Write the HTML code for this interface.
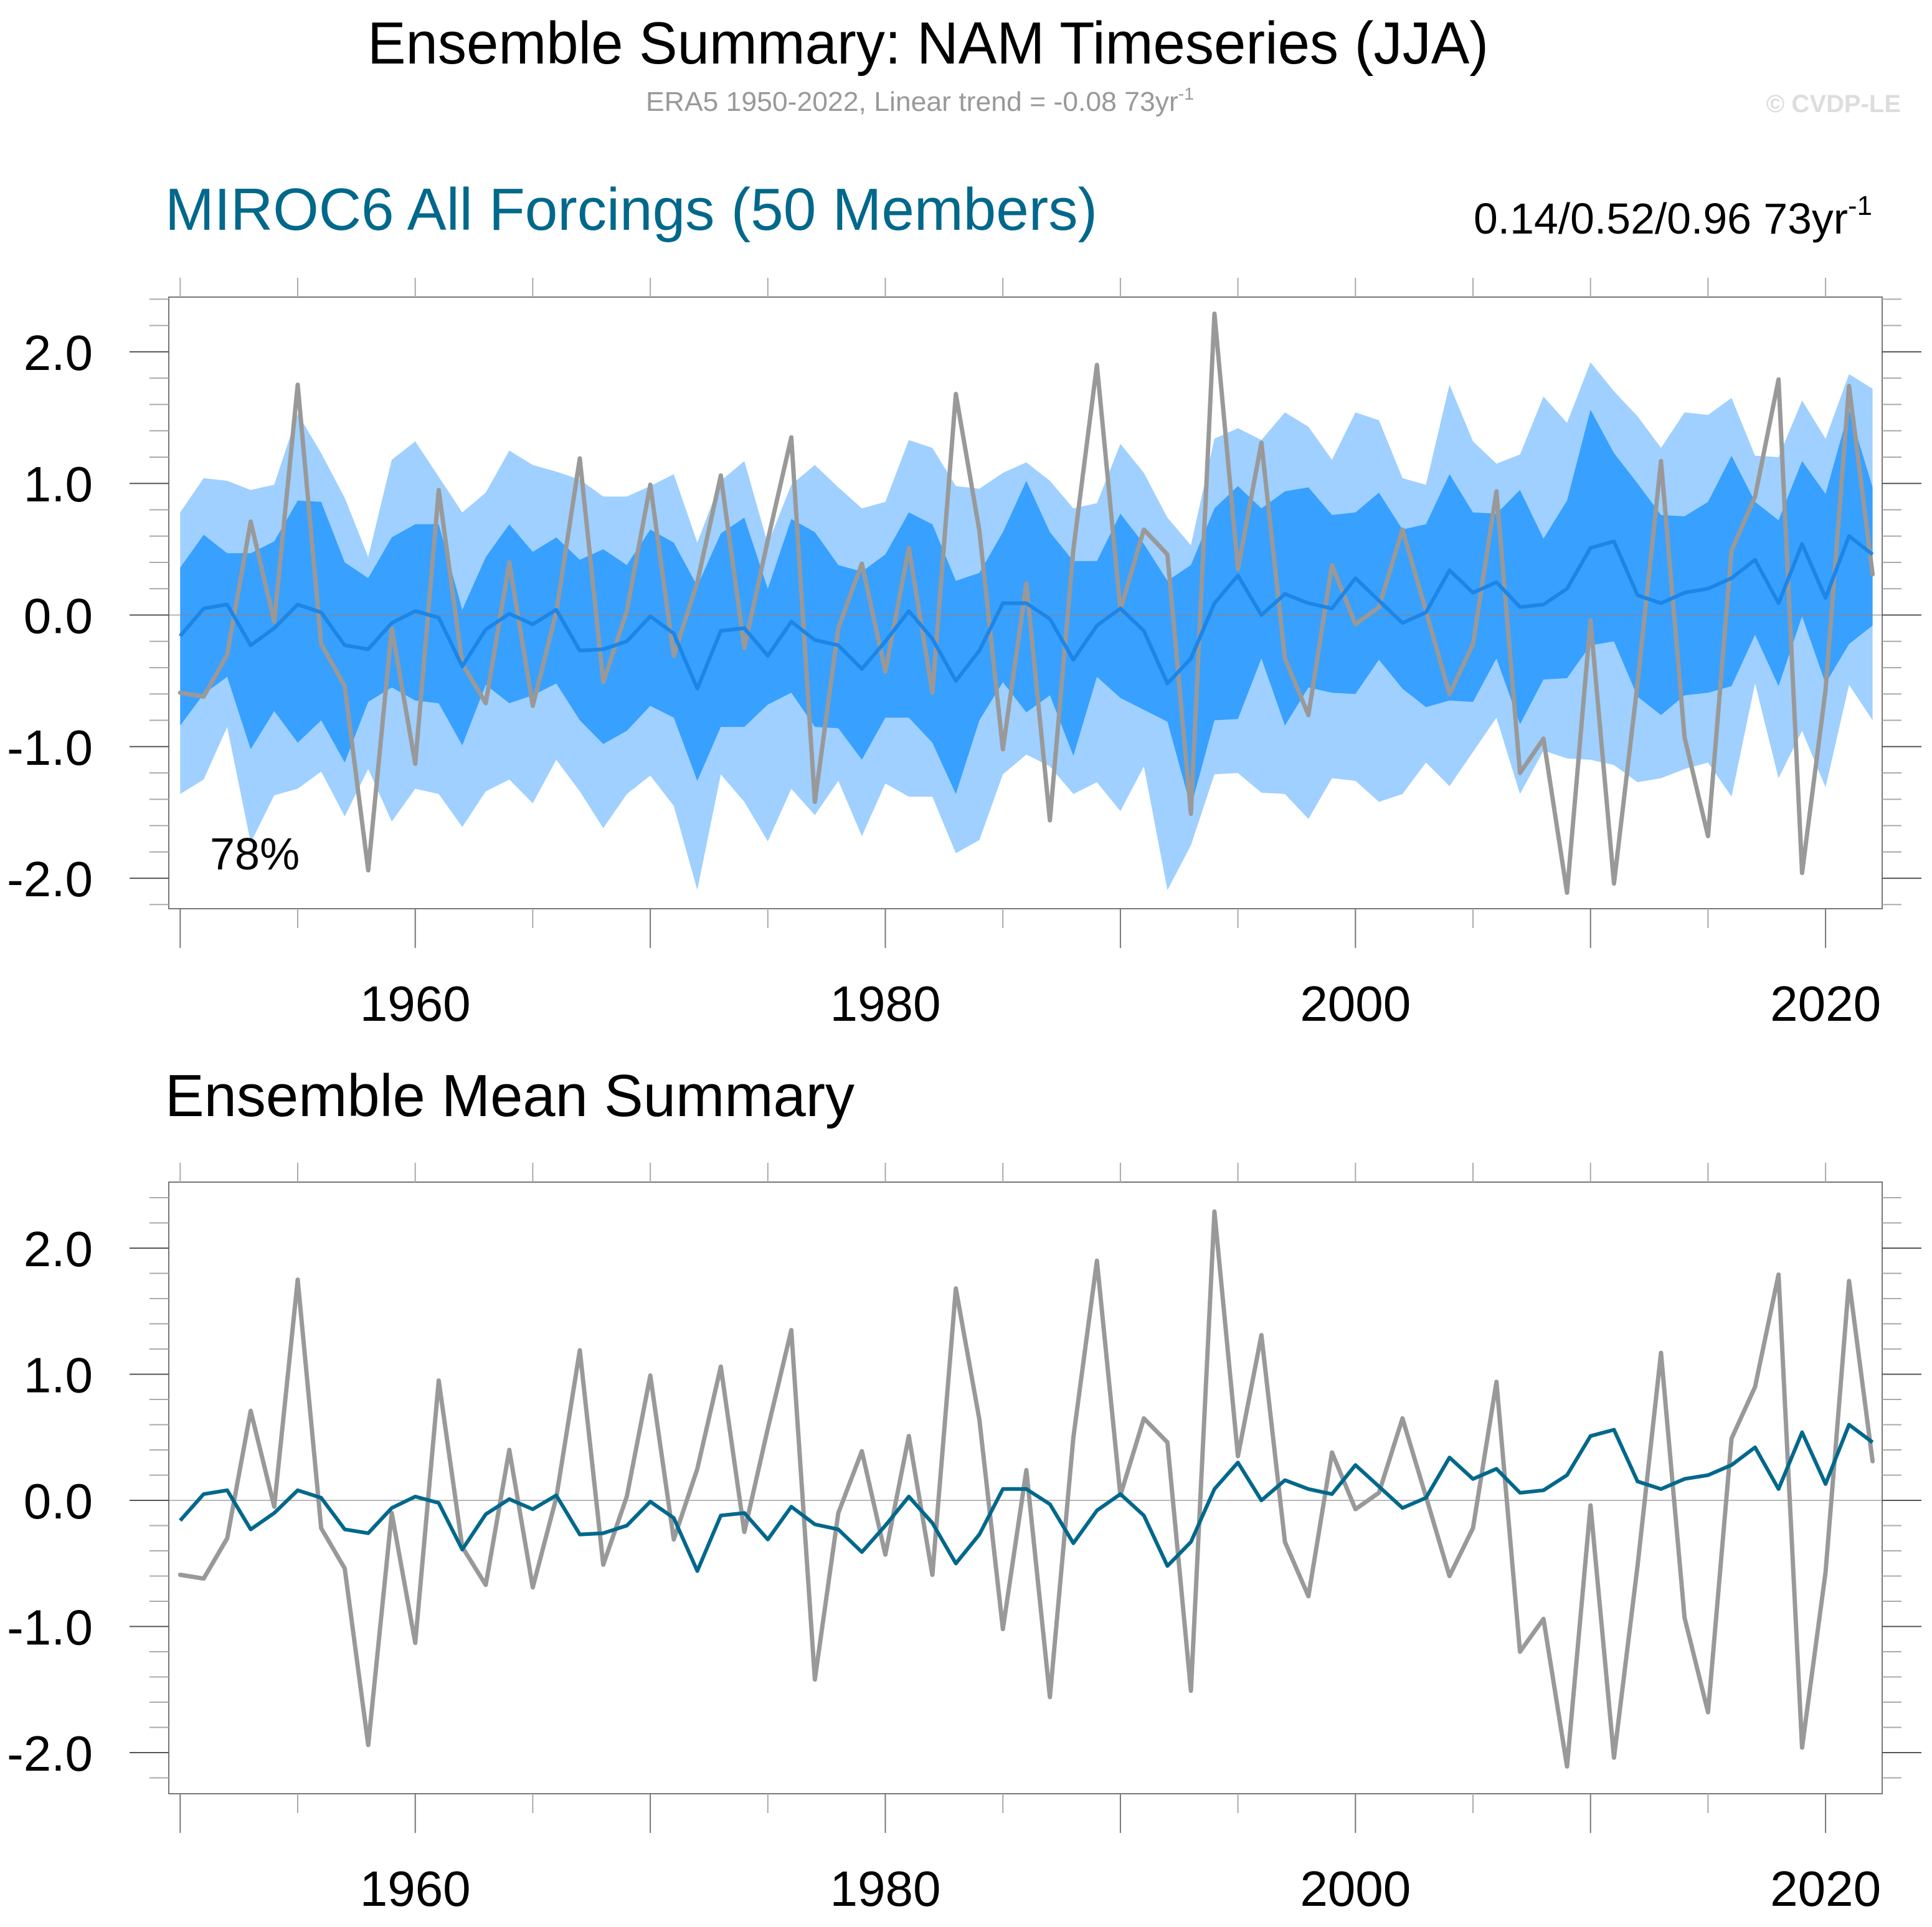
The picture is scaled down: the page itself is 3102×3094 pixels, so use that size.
<!DOCTYPE html>
<html><head><meta charset="utf-8"><title>Ensemble Summary: NAM Timeseries (JJA)</title>
<style>html,body{margin:0;padding:0;background:#fff}svg{display:block;font-family:"Liberation Sans",Arial,sans-serif}</style>
</head><body>
<svg id="chart" xmlns="http://www.w3.org/2000/svg" width="3102" height="3094" viewBox="0 0 3102 3094">
<rect width="3102" height="3094" fill="#fff"/>
<text x="590" y="102" font-size="96" textLength="1800" lengthAdjust="spacingAndGlyphs">Ensemble Summary: NAM Timeseries (JJA)</text>
<text x="1037" y="178" font-size="44" fill="#999" textLength="880" lengthAdjust="spacingAndGlyphs">ERA5 1950-2022, Linear trend = -0.08 73yr<tspan dy="-18" font-size="28">-1</tspan></text>
<text x="3052" y="180" font-size="40" font-weight="bold" fill="#ddd" text-anchor="end">© CVDP-LE</text>
<text x="265" y="369" font-size="96" fill="#00688b" textLength="1497" lengthAdjust="spacingAndGlyphs">MIROC6 All Forcings (50 Members)</text>
<text x="2366" y="375" font-size="70" textLength="640" lengthAdjust="spacingAndGlyphs">0.14/0.52/0.96 73yr<tspan dy="-30" font-size="44">-1</tspan></text>
<text x="265" y="1792" font-size="96" textLength="1107" lengthAdjust="spacingAndGlyphs">Ensemble Mean Summary</text>
<g id="top"></g>
<g id="bottom"></g>
</svg>
<script>
const years = [];
for (let y = 1950; y <= 2022; y++) years.push(y);
const era5 = [-0.59,-0.62,-0.30,0.71,-0.05,1.75,-0.22,-0.54,-1.94,-0.10,-1.13,0.95,-0.37,-0.67,0.40,-0.69,0.02,1.19,-0.51,0.03,0.99,-0.31,0.25,1.06,-0.25,0.57,1.35,-1.42,-0.10,0.39,-0.43,0.51,-0.59,1.68,0.64,-1.02,0.24,-1.56,0.50,1.90,0.04,0.65,0.46,-1.51,2.29,0.35,1.31,-0.33,-0.76,0.38,-0.07,0.06,0.65,0.03,-0.60,-0.22,0.94,-1.20,-0.94,-2.11,-0.04,-2.04,-0.52,1.17,-0.93,-1.68,0.49,0.90,1.79,-1.96,-0.57,1.74,0.31];
const ensMean = [-0.16,0.05,0.08,-0.23,-0.10,0.08,0.02,-0.23,-0.26,-0.06,0.03,-0.02,-0.39,-0.11,0.01,-0.07,0.04,-0.27,-0.26,-0.20,-0.01,-0.14,-0.56,-0.12,-0.10,-0.31,-0.05,-0.19,-0.23,-0.41,-0.20,0.03,-0.18,-0.50,-0.27,0.09,0.09,-0.03,-0.34,-0.08,0.05,-0.12,-0.52,-0.33,0.09,0.30,0.00,0.16,0.09,0.05,0.28,0.11,-0.06,0.02,0.34,0.17,0.25,0.06,0.08,0.20,0.51,0.56,0.15,0.09,0.17,0.20,0.28,0.42,0.09,0.54,0.13,0.60,0.46];
const outerHi = [0.78,1.04,1.02,0.95,0.99,1.53,1.23,0.89,0.44,1.18,1.32,1.05,0.78,0.93,1.25,1.14,1.09,1.03,0.90,0.90,0.98,1.07,0.55,1.02,1.17,0.54,0.99,1.14,0.97,0.81,0.86,1.33,1.27,0.98,0.96,1.08,1.16,1.02,0.81,0.85,1.30,1.08,0.74,0.53,1.34,1.42,1.33,1.54,1.43,1.18,1.54,1.48,1.04,0.99,1.75,1.32,1.15,1.22,1.66,1.46,1.92,1.70,1.51,1.27,1.54,1.52,1.65,1.21,1.20,1.63,1.34,1.83,1.72];
const innerHi = [0.36,0.61,0.47,0.47,0.56,0.87,0.86,0.40,0.28,0.59,0.69,0.69,0.04,0.44,0.69,0.48,0.59,0.42,0.50,0.38,0.65,0.55,0.22,0.62,0.74,0.20,0.73,0.63,0.38,0.33,0.46,0.78,0.69,0.26,0.32,0.63,1.02,0.63,0.41,0.41,0.77,0.54,0.26,0.38,0.81,0.98,0.81,0.94,0.97,0.76,0.78,0.93,0.65,0.69,1.07,0.78,0.77,0.95,0.58,0.87,1.56,1.23,1.00,0.76,0.75,0.86,1.21,0.86,0.72,1.17,0.92,1.56,0.97];
const innerLo = [-0.84,-0.60,-0.47,-1.02,-0.73,-0.97,-0.80,-1.12,-0.66,-0.55,-0.65,-0.67,-0.99,-0.53,-0.67,-0.61,-0.52,-0.80,-0.98,-0.88,-0.69,-0.78,-1.26,-0.85,-0.85,-0.68,-0.59,-0.85,-0.86,-1.10,-0.78,-0.78,-0.97,-1.36,-0.80,-0.51,-0.74,-0.61,-1.07,-0.47,-0.63,-0.72,-0.81,-1.46,-0.80,-0.79,-0.33,-0.84,-0.55,-0.59,-0.60,-0.34,-0.56,-0.70,-0.65,-0.66,-0.33,-0.83,-0.49,-0.48,-0.23,-0.20,-0.62,-0.76,-0.61,-0.59,-0.54,-0.15,-0.54,-0.01,-0.52,-0.22,-0.08];
const outerLo = [-1.36,-1.25,-0.85,-1.73,-1.37,-1.32,-1.19,-1.53,-1.17,-1.57,-1.32,-1.36,-1.61,-1.34,-1.25,-1.43,-1.10,-1.34,-1.62,-1.36,-1.22,-1.45,-2.09,-1.21,-1.42,-1.72,-1.32,-1.52,-1.26,-1.68,-1.28,-1.38,-1.38,-1.81,-1.71,-1.21,-1.06,-1.15,-1.36,-1.27,-1.49,-1.15,-2.09,-1.75,-1.21,-1.20,-1.35,-1.36,-1.55,-1.24,-1.26,-1.42,-1.36,-1.12,-1.30,-1.04,-0.78,-1.36,-1.03,-1.09,-1.10,-1.14,-1.27,-1.24,-1.17,-1.12,-1.38,-0.52,-1.24,-0.88,-1.31,-0.53,-0.80];
const yTickLabels = ["2.0","1.0","0.0","-1.0","-2.0"];
const yTickValues = [2,1,0,-1,-2];
const xTickLabels = ["1960","1980","2000","2020"];
const xTickYears = [1960,1980,2000,2020];

const NS = "http://www.w3.org/2000/svg";
const xs = yr => 289.3 + 37.74 * (yr - 1950);
function mk(parent, tag, attrs) {
  const e = document.createElementNS(NS, tag);
  for (const k in attrs) e.setAttribute(k, attrs[k]);
  parent.appendChild(e);
  return e;
}
function pts(vals, ys) { return vals.map((v, i) => xs(years[i]).toFixed(1) + "," + ys(v).toFixed(1)); }

function drawPanel(g, top, bottom, zeroY, unit, labelY, isTop) {
  const ys = v => zeroY - unit * v;
  const L = 271, R = 3022;
  if (isTop) {
    const outer = mk(g, "polygon", {points: pts(outerHi, ys).concat(pts(outerLo, ys).reverse()).join(" "), fill: "#9fd0ff"});
    
    
    const inner = mk(g, "polygon", {points: pts(innerHi, ys).concat(pts(innerLo, ys).reverse()).join(" "), fill: "#38a0ff"});
    
    
  }
  const zl = mk(g, "line", {x1: L, x2: R, y1: zeroY, y2: zeroY, stroke: "#888", "stroke-width": 1.5, "stroke-opacity": 0.8});
  
  
  const gl = mk(g, "polyline", {points: pts(era5, ys).join(" "), fill: "none", stroke: "#999", "stroke-width": 7, "stroke-linejoin": "round", "stroke-linecap": "round"});
  
  
  const ml = mk(g, "polyline", {points: pts(ensMean, ys).join(" "), fill: "none", stroke: isTop ? "#1c86e8" : "#00688b", "stroke-width": 6, "stroke-linejoin": "round"});
  
  
  const box = mk(g, "rect", {x: L, y: top, width: R - L, height: bottom - top, fill: "none", stroke: "#777", "stroke-width": 2});
  
  
  for (let k = -11; k <= 12; k++) {
    const v = k * 0.2, y = ys(v);
    if (y < top || y > bottom) continue;
    const major = k % 5 === 0;
    const len = major ? 63 : 31;
    const c = major ? "#555" : "#aaa";
    const t1 = mk(g, "line", {x1: L - len, x2: L, y1: y, y2: y, stroke: c, "stroke-width": 2});
    
    
    const t2 = mk(g, "line", {x1: R, x2: R + len, y1: y, y2: y, stroke: c, "stroke-width": 2});
    
    
  }
  yTickValues.forEach((v, i) => {
    const t = mk(g, "text", {x: 149, y: ys(v) + 29, "font-size": 80, "text-anchor": "end"});
    t.textContent = yTickLabels[i];
    
    
  });
  for (let yr = 1950; yr <= 2020; yr += 5) {
    const x = xs(yr), major = yr % 10 === 0;
    const tt = mk(g, "line", {x1: x, x2: x, y1: top - 31, y2: top, stroke: "#aaa", "stroke-width": 2});
    
    
    const tb = mk(g, "line", {x1: x, x2: x, y1: bottom, y2: bottom + (major ? 63 : 31), stroke: major ? "#777" : "#aaa", "stroke-width": 2});
    
    
  }
  xTickYears.forEach((yr, i) => {
    const t = mk(g, "text", {x: xs(yr), y: labelY, "font-size": 80, "text-anchor": "middle"});
    t.textContent = xTickLabels[i];
    
    
  });
  if (isTop) {
    const p = mk(g, "text", {x: 337, y: 1396, "font-size": 72});
    p.textContent = "78%";
    
    
  }
}
drawPanel(document.getElementById("top"), 477, 1459, 987.5, 211.3, 1639, true);
drawPanel(document.getElementById("bottom"), 1898, 2880, 2409, 202.5, 3060, false);
</script>
</body></html>
